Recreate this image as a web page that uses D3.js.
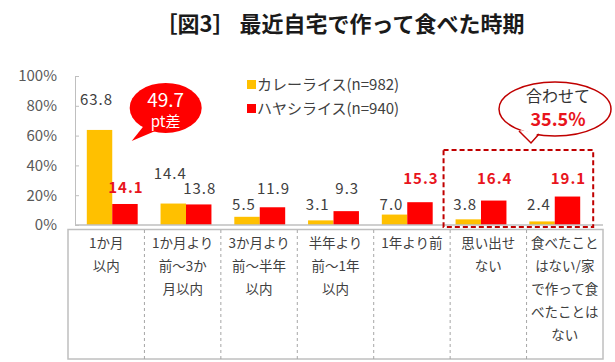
<!DOCTYPE html>
<html>
<head>
<meta charset="utf-8">
<script src="https://cdn.jsdelivr.net/npm/d3@7"></script>
<style>
	html, body { margin: 0; padding: 0; background: #fff; }
	svg { display: block; font-family: "Noto Sans CJK JP", "Noto Sans", sans-serif; }
</style>
</head>
<body>
<svg id="chart" width="615" height="362"></svg>
<script>
;(function() {
	"use strict";

	var categories = ['1か月以内', '1か月より前～3か月以内', '3か月より前～半年以内', '半年より前～1年以内', '1年より前', '思い出せない', '食べたことはない/家で作って食べたことはない'];
	// wrapped as in the table under the chart
	var categoryLines = [
		['1か月', '以内'],
		['1か月より', '前～3か', '月以内'],
		['3か月より', '前～半年', '以内'],
		['半年より', '前～1年', '以内'],
		['1年より前'],
		['思い出せ', 'ない'],
		['食べたこと', 'はない/家', 'で作って食', 'べたことは', 'ない']
	];
	var curryValues = [63.8, 14.4, 5.5, 3.1, 7.0, 3.8, 2.4];
	var hayashiValues = [14.1, 13.8, 11.9, 9.3, 15.3, 16.4, 19.1];
	var hayashiHighlight = [true, false, false, false, true, true, true];
	var seriesNames = ['カレーライス(n=982)', 'ハヤシライス(n=940)'];
	var yTicks = [0, 20, 40, 60, 80, 100];
	var gapValue = 49.7, combinedValue = 35.5;

	var colors = { curry: '#ffc000', hayashi: '#ff0000', label: '#e8141c', dark: '#c00000', text: '#404040', grid: '#bfbfbf' };

	var svg = d3.select('#chart');

	// title
	svg.append('text')
		.attr('x', 340).attr('y', 32)
		.attr('text-anchor', 'middle')
		.style('font-size', '22px').style('font-weight', 'bold').style('fill', '#1a1a1a')
		.text('［図3］ 最近自宅で作って食べた時期');

	var y = d3.scaleLinear().domain([0, 100]).range([225, 76]),
		x = d3.scaleBand().domain(categories).range([75, 592]).paddingInner(0.31).paddingOuter(0.16),
		xs = d3.scaleBand().domain(['curry', 'hayashi']).range([0, x.bandwidth()]),
		xt = d3.scaleBand().domain(categories).range([68, 603]);

	// y axis
	var yAxis = svg.append('g')
		.attr('transform', 'translate(75,0)')
		.call(d3.axisRight(y).tickValues(yTicks).tickSize(4).tickFormat(''));
	yAxis.select('.domain').attr('stroke', colors.grid);
	yAxis.selectAll('.tick line').attr('stroke', colors.grid);

	svg.append('g').selectAll('text').data(yTicks).enter()
		.append('text')
		.attr('x', 57).attr('y', function(d) { return y(d); })
		.attr('dy', '.36em')
		.attr('text-anchor', 'end')
		.style('font-size', '15px').style('fill', '#595959')
		.text(function(d) { return d + '%'; });

	// bars
	var groups = svg.append('g').selectAll('.cat').data(categories).enter()
		.append('g')
			.attr('class', 'cat')
			.attr('transform', function(d) { return 'translate(' + x(d) + ',0)'; });

	groups.append('rect')
		.attr('x', xs('curry')).attr('width', xs.bandwidth())
		.attr('y', function(d, i) { return y(curryValues[i]); })
		.attr('height', function(d, i) { return y(0) - y(curryValues[i]); })
		.attr('fill', colors.curry);
	groups.append('rect')
		.attr('x', xs('hayashi')).attr('width', xs.bandwidth())
		.attr('y', function(d, i) { return y(hayashiValues[i]); })
		.attr('height', function(d, i) { return y(0) - y(hayashiValues[i]); })
		.attr('fill', colors.hayashi);

	// baseline
	svg.append('line')
		.attr('x1', 75).attr('x2', 603).attr('y1', y(0)).attr('y2', y(0))
		.attr('stroke', colors.grid).attr('stroke-width', 1.5);

	// value labels: tall curry bars get labels above, short ones share one row
	groups.append('text')
		.attr('x', xs('curry') + xs.bandwidth() / 2 - 3)
		.attr('y', function(d, i) {
			var v = curryValues[i];
			return v >= 10 ? y(v) - 30 : y(0) - 20;
		})
		.attr('dy', '.36em')
		.attr('text-anchor', 'middle')
		.style('font-size', '15px').style('fill', '#404040').style('letter-spacing', '1px')
		.text(function(d, i) { return curryValues[i].toFixed(1); });

	var maxHayashi = d3.max(hayashiValues);
	groups.append('text')
		.attr('x', xs('hayashi') + xs.bandwidth() / 2 + 1)
		.attr('y', function(d, i) {
			return hayashiHighlight[i] && i > 0 ? y(maxHayashi) - 18 : y(Math.max(hayashiValues[i], 14)) - 16;
		})
		.attr('dy', '.36em')
		.attr('text-anchor', 'middle')
		.style('font-size', '15px').style('letter-spacing', '1px')
		.style('font-weight', function(d, i) { return hayashiHighlight[i] ? 'bold' : 'normal'; })
		.style('fill', function(d, i) { return hayashiHighlight[i] ? colors.label : '#404040'; })
		.text(function(d, i) { return hayashiValues[i].toFixed(1); });

	// legend
	var legend = svg.append('g').attr('transform', 'translate(247,80)');
	var legendItems = legend.selectAll('g').data(seriesNames).enter()
		.append('g')
			.attr('transform', function(d, i) { return 'translate(0,' + (i * 24) + ')'; });
	legendItems.append('rect')
		.attr('width', 9).attr('height', 9)
		.attr('fill', function(d, i) { return i === 0 ? colors.curry : colors.hayashi; });
	legendItems.append('text')
		.attr('x', 10).attr('y', 5).attr('dy', '.36em')
		.style('font-size', '15px').style('fill', colors.text)
		.text(function(d) { return d; });

	// red bubble: gap in the first category
	var c0 = categories[0];
	var bx = x(c0) + x.bandwidth() + 28, by = y(curryValues[0]) - 22;
	var bubble1 = svg.append('g');
	bubble1.append('path')
		.attr('d', 'M' + (bx - 22) + ',' + (by + 18) + ' L' + (bx - 34) + ',' + (by + 33) + ' L' + (bx - 8) + ',' + (by + 22) + 'Z')
		.attr('fill', colors.hayashi);
	bubble1.append('ellipse')
		.attr('cx', bx).attr('cy', by).attr('rx', 36).attr('ry', 25)
		.attr('fill', colors.hayashi);
	bubble1.append('text')
		.attr('x', bx).attr('y', by - 8).attr('dy', '.36em')
		.attr('text-anchor', 'middle')
		.style('font-size', '19px').style('fill', '#fff')
		.text(gapValue.toFixed(1));
	bubble1.append('text')
		.attr('x', bx).attr('y', by + 14).attr('dy', '.36em')
		.attr('text-anchor', 'middle')
		.style('font-size', '15px').style('fill', '#fff')
		.text('pt差');

	// dashed frame around the last two categories
	var c5 = categories[5], c6 = categories[6];
	var fx0 = x(c5) - 12, fx1 = x(c6) + x.bandwidth() + 13;
	svg.append('rect')
		.attr('x', fx0).attr('y', 150)
		.attr('width', fx1 - fx0).attr('height', y(0) + 2 - 150)
		.attr('fill', 'none')
		.attr('stroke', colors.dark).attr('stroke-width', 2).attr('stroke-dasharray', '5,3');

	// outlined bubble: combined share
	var b2x = 555, b2y = 109;
	var bubble2 = svg.append('g');
	bubble2.append('path')
		.attr('d', 'M' + (b2x - 36) + ',' + (b2y + 22) + ' L' + (b2x - 24) + ',' + (b2y + 34) + ' L' + (b2x - 16) + ',' + (b2y + 25))
		.attr('fill', '#fff').attr('stroke', colors.dark).attr('stroke-width', 1.5);
	bubble2.append('ellipse')
		.attr('cx', b2x).attr('cy', b2y).attr('rx', 56).attr('ry', 27)
		.attr('fill', 'none').attr('stroke', colors.dark).attr('stroke-width', 1.5);
	bubble2.append('path')
		.attr('d', 'M' + (b2x - 35) + ',' + (b2y + 21) + ' L' + (b2x - 24) + ',' + (b2y + 32) + ' L' + (b2x - 17) + ',' + (b2y + 24) + 'Z')
		.attr('fill', '#fff');
	bubble2.append('text')
		.attr('x', b2x + 3).attr('y', b2y - 13).attr('dy', '.36em')
		.attr('text-anchor', 'middle')
		.style('font-size', '16px').style('fill', '#333')
		.text('合わせて');
	bubble2.append('text')
		.attr('x', b2x + 3).attr('y', b2y + 11).attr('dy', '.36em')
		.attr('text-anchor', 'middle')
		.style('font-size', '18px').style('font-weight', 'bold').style('fill', colors.label)
		.text(combinedValue.toFixed(1) + '%');

	// category table
	var table = svg.append('g');
	table.append('rect')
		.attr('x', 68).attr('y', 229.5).attr('width', 535).attr('height', 129.5)
		.attr('fill', 'none').attr('stroke', colors.grid).attr('stroke-width', 1.5);
	table.selectAll('line').data(categories.slice(1)).enter()
		.append('line')
		.attr('x1', function(d) { return xt(d); }).attr('x2', function(d) { return xt(d); })
		.attr('y1', 230).attr('y2', 359)
		.attr('stroke', '#a6a6a6').attr('stroke-dasharray', '3,3');
	var cells = table.selectAll('.cell').data(categories).enter()
		.append('text')
			.attr('class', 'cell')
			.attr('text-anchor', 'middle')
			.style('font-size', '13.5px').style('fill', colors.text);
	cells.each(function(d, i) {
		var t = d3.select(this);
		categoryLines[i].forEach(function(line, j) {
			t.append('tspan')
				.attr('x', xt(d) + xt.bandwidth() / 2)
				.attr('y', 243 + j * 23)
				.attr('dy', '.36em')
				.text(line);
		});
	});
})();
</script>
</body>
</html>
